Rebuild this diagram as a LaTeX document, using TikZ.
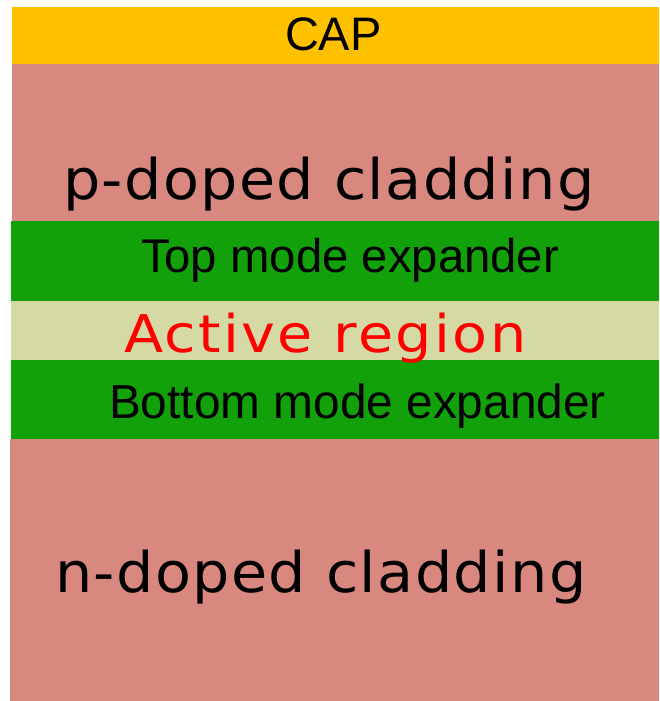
\documentclass[tikz,border=0pt]{standalone}
\usepackage{graphicx}
\usepackage{fontspec}
\setmainfont{Liberation Sans}
\newfontfamily\cladfont[LetterSpace=2.4]{DejaVu Sans}
\newfontfamily\actfont[LetterSpace=4.2]{DejaVu Sans}
\definecolor{capcol}{HTML}{FFC000}
\definecolor{cladcol}{HTML}{D98880}
\definecolor{modecol}{HTML}{12A00B}
\definecolor{actcol}{HTML}{D5D9A3}
\tikzset{
  lbl/.style={anchor=base west, inner sep=0pt, outer sep=0pt},
}
\newcommand{\wide}[2][1.1]{\scalebox{#1}[1]{#2}}
\begin{document}
\begin{tikzpicture}[x=1pt,y=-1pt]
\useasboundingbox (0,0) rectangle (659,701);
\fill[capcol]  (12,7)   rectangle (659,64);
\fill[cladcol] (12,64)  rectangle (659,221);
\fill[modecol] (11,221) rectangle (659,301);
\fill[actcol]  (11,301) rectangle (659,360);
\fill[modecol] (11,360) rectangle (659,439);
\fill[cladcol] (10,439) rectangle (659,701);
\node[lbl, font=\fontsize{47}{47}\selectfont] (cap) at (285,51) {CAP};
\node[lbl, font=\cladfont\fontsize{56}{56}\selectfont] (pclad) at (63,199) {\wide[1.05]{p-doped cladding}};
\node[lbl, font=\fontsize{47.3}{47.3}\selectfont] (top) at (141,272) {Top mode expander};
\node[lbl, font=\actfont\fontsize{52}{52}\selectfont, text=red] (act) at (124,352) {\wide{Active region}};
\node[lbl, font=\fontsize{47.8}{47.8}\selectfont] (bot) at (109,418) {Bottom mode expander};
\node[lbl, font=\cladfont\fontsize{56}{56}\selectfont] (nclad) at (55,592) {\wide[1.05]{n-doped cladding}};
\end{tikzpicture}
\end{document}
